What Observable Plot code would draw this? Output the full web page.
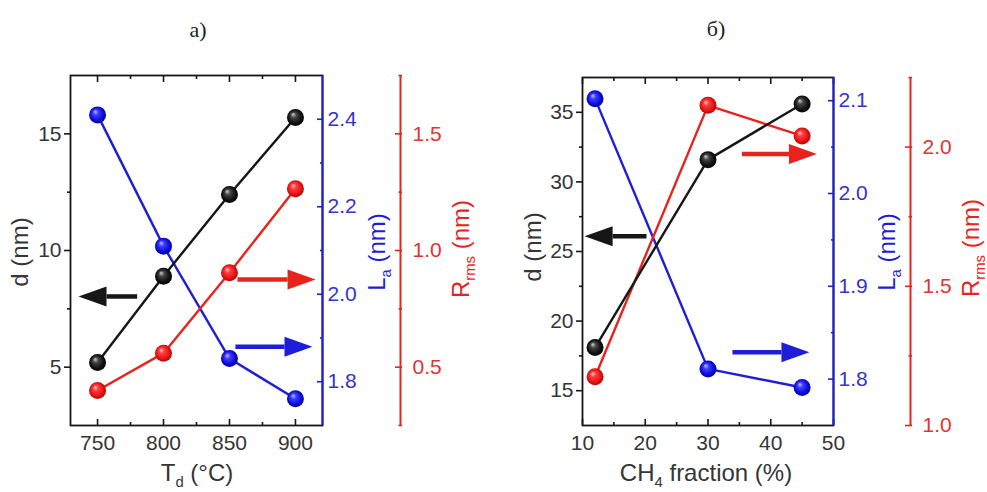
<!DOCTYPE html>
<html><head><meta charset="utf-8">
<script src="https://cdn.jsdelivr.net/npm/d3@7"></script>
<script src="https://cdn.jsdelivr.net/npm/@observablehq/plot@0.6"></script>
<style>
body{margin:0;background:#fff;}
#root{position:relative;width:987px;height:492px;overflow:hidden;font-family:"Liberation Sans",Arial,sans-serif;background:#fff;}
#root svg.plotsvg{position:absolute;left:0;top:0;}
.lab{position:absolute;white-space:nowrap;line-height:1;}
.rot{transform:translate(-50%,-50%) rotate(-90deg);}
.hor{transform:translate(-50%,-50%);}
.s{font-size:0.62em;position:relative;top:0.38em;}
.ttl{position:absolute;font-family:"Liberation Serif","Times New Roman",serif;font-size:22px;color:#222;transform:translate(-50%,-50%);}
</style></head>
<body>
<svg width="0" height="0" style="position:absolute">
 <defs>
  <radialGradient id="gBlack" cx="0.5" cy="0.5" r="0.55" fx="0.35" fy="0.3">
   <stop offset="0" stop-color="#d0d0d0"/><stop offset="0.3" stop-color="#444"/><stop offset="0.7" stop-color="#111"/><stop offset="1" stop-color="#000"/>
  </radialGradient>
  <radialGradient id="gBlue" cx="0.5" cy="0.5" r="0.55" fx="0.35" fy="0.3">
   <stop offset="0" stop-color="#c0c0ff"/><stop offset="0.3" stop-color="#3c3cff"/><stop offset="0.7" stop-color="#0c0cd8"/><stop offset="1" stop-color="#00009a"/>
  </radialGradient>
  <radialGradient id="gRed" cx="0.5" cy="0.5" r="0.55" fx="0.35" fy="0.3">
   <stop offset="0" stop-color="#ffc8c8"/><stop offset="0.3" stop-color="#ff3c3c"/><stop offset="0.7" stop-color="#e41414"/><stop offset="1" stop-color="#a80000"/>
  </radialGradient>
 </defs>
</svg>
<div id="root"></div>
<script>
// ---------- DATA ----------
// Panel a) : deposition temperature
const tempA = [750, 800, 850, 900];
const dA    = [5.2, 8.9, 12.4, 15.7];
const laA   = [2.41, 2.11, 1.853, 1.761];
const rmsA  = [0.40, 0.56, 0.905, 1.265];

// Panel б) : CH4 fraction
const ch4B = [12, 30, 45];
const dB   = [18.1, 31.6, 35.6];
const laB  = [2.102, 1.811, 1.791];
const rmsB = [1.175, 2.15, 2.04];

// Axis domains and ticks
const xDomainA = [729.5, 920.5], xTicksA = [750, 800, 850, 900], xMinorA = [775, 825, 875];
const dDomainA = [2.5, 17.5], dTicksA = [5, 10, 15], dMinorA = [7.5, 12.5];
const laDomainA = [1.7, 2.5], laTicksA = [1.8, 2.0, 2.2, 2.4], laMinorA = [1.9, 2.1, 2.3];
const rmsDomainA = [0.25, 1.75], rmsTicksA = [0.5, 1.0, 1.5], rmsMinorA = [0.25, 0.75, 1.25, 1.75];

const xDomainB = [10, 50], xTicksB = [10, 20, 30, 40, 50], xMinorB = [15, 25, 35, 45];
const dDomainB = [12.5, 37.5], dTicksB = [15, 20, 25, 30, 35], dMinorB = [17.5, 22.5, 27.5, 32.5];
const laDomainB = [1.75, 2.125], laTicksB = [1.8, 1.9, 2.0, 2.1], laMinorB = [1.85, 1.95, 2.05];
const rmsDomainB = [1.0, 2.25], rmsTicksB = [1.0, 1.5, 2.0], rmsMinorB = [1.25, 1.75, 2.25];

// Annotation arrows (data coordinates: shaft start, head base, level)
const arrowDA   = {from: 780, to: 756.8, at: 8.03};
const arrowLaA  = {from: 854.5, to: 891.7, at: 1.88};
const arrowRmsA = {from: 856, to: 894, at: 0.876};
const arrowDB   = {from: 20.2, to: 14.8, at: 26.1};
const arrowLaB  = {from: 33.9, to: 41.7, at: 1.829};
const arrowRmsB = {from: 35.4, to: 42.9, at: 1.975};

// ---------- STYLE / LAYOUT ----------
const W = 987, H = 492;
const BLACK = "#161616", BLUE = "#1e1ed8", RED = "#e8231e";
const TXT = "#353535", BLUETXT = "#3434cc", REDTXT = "#e03434";
const FONT = '"Liberation Sans", Arial, sans-serif';
const GA = {L: 70, R: 322, T: 75, B: 425, red: 400};
const GB = {L: 582, R: 833, T: 77, B: 425, red: 910};
const root = document.getElementById("root");

const headRight = {draw(c) { c.moveTo(28, 0); c.lineTo(0, -10); c.lineTo(0, 10); c.closePath(); }};
const headLeft  = {draw(c) { c.moveTo(-28, 0); c.lineTo(0, -10); c.lineTo(0, 10); c.closePath(); }};

function mount(svg) { svg.classList.add("plotsvg"); root.appendChild(svg); }

function mk(g, L, R, xDomain, yDomain, marks, xAxis = false, yAxis = false) {
  mount(Plot.plot({
    width: W, height: H,
    marginLeft: L, marginRight: W - R, marginTop: g.T, marginBottom: H - g.B,
    x: xDomain ? {domain: xDomain, ...(xAxis ? {} : {axis: null})} : {axis: null},
    y: {domain: yDomain, ...(yAxis ? {} : {axis: null})},
    style: {background: "transparent", fontFamily: FONT, overflow: "visible"},
    marks
  }));
}

function series(rows, key, color, grad) {
  return [
    Plot.line(rows, {x: "x", y: key, stroke: color, strokeWidth: 2.4}),
    Plot.dot(rows, {x: "x", y: key, r: 8.5, fill: `url(#${grad})`, stroke: "none"})
  ];
}
function arrow(a, color) {
  return [
    Plot.link([a], {x1: "from", x2: "to", y1: "at", y2: "at", stroke: color, strokeWidth: 4.5}),
    Plot.dot([a], {x: "to", y: "at", r: 8, symbol: a.to > a.from ? headRight : headLeft, fill: color, stroke: "none"})
  ];
}
const f1 = d3.format(".1f");
const blank = () => "";

function yAxes(anchor, ticks, minor, fmt, stroke, fill, size, pad) {
  return [
    Plot.axisY({anchor, ticks, tickSize: size, tickPadding: pad, tickFormat: fmt, label: null, fontSize: 21, stroke, fill, strokeWidth: 1.6}),
    Plot.axisY({anchor, ticks: minor, tickSize: size / 2, tickFormat: blank, label: null, stroke, fill: "none", strokeWidth: 1.6})
  ];
}
function xAxes(ticks, minor) {
  return [
    Plot.axisX({anchor: "bottom", ticks, tickSize: -6, tickPadding: 16, label: null, fontSize: 21, stroke: BLACK, fill: TXT, strokeWidth: 1.6}),
    Plot.axisX({anchor: "bottom", ticks: minor, tickSize: -3, tickFormat: blank, label: null, stroke: BLACK, fill: "none", strokeWidth: 1.6}),
    Plot.axisX({anchor: "top", ticks, tickSize: -6, tickFormat: blank, label: null, stroke: BLACK, fill: "none", strokeWidth: 1.6}),
    Plot.axisX({anchor: "top", ticks: minor, tickSize: -3, tickFormat: blank, label: null, stroke: BLACK, fill: "none", strokeWidth: 1.6})
  ];
}

function buildPanel(g, xs, d, la, rms, dom, arr) {
  const rows = xs.map((x, i) => ({x, d: d[i], la: la[i], rms: rms[i]}));
  // main: frame, x axes, d axis
  mk(g, g.L, g.R, dom.x, dom.d, [
    Plot.frame({stroke: BLACK, strokeWidth: 1.8}),
    ...xAxes(dom.xt, dom.xm),
    ...yAxes("left", dom.dt, dom.dm, undefined, BLACK, TXT, 6, 3),
  ], true, true);
  // blue La
  mk(g, g.L, g.R, dom.x, dom.la, [
    Plot.ruleX([dom.x[1]], {stroke: BLUE, strokeWidth: 2}),
    ...yAxes("right", dom.lat, dom.lam, f1, BLUE, BLUETXT, -6, 11),
    ...series(rows, "la", BLUE, "gBlue"),
    ...arrow(arr.la, BLUE)
  ], false, true);
  // red Rms data
  mk(g, g.L, g.R, dom.x, dom.rms, [
    ...series(rows, "rms", RED, "gRed"),
    ...arrow(arr.rms, RED)
  ]);
  // black d data on top
  mk(g, g.L, g.R, dom.x, dom.d, [
    ...series(rows, "d", BLACK, "gBlack"),
    ...arrow(arr.d, BLACK)
  ]);
  // free-standing red axis
  mk(g, g.red - 1, g.red + 1, null, dom.rms, [
    Plot.frame({fill: RED, stroke: "none"}),
    ...yAxes("right", dom.rmst, dom.rmsm, f1, RED, REDTXT, -7, 18)
  ], false, true);
}

buildPanel(GA, tempA, dA, laA, rmsA,
  {x: xDomainA, xt: xTicksA, xm: xMinorA, d: dDomainA, dt: dTicksA, dm: dMinorA,
   la: laDomainA, lat: laTicksA, lam: laMinorA, rms: rmsDomainA, rmst: rmsTicksA, rmsm: rmsMinorA},
  {d: arrowDA, la: arrowLaA, rms: arrowRmsA});
buildPanel(GB, ch4B, dB, laB, rmsB,
  {x: xDomainB, xt: xTicksB, xm: xMinorB, d: dDomainB, dt: dTicksB, dm: dMinorB,
   la: laDomainB, lat: laTicksB, lam: laMinorB, rms: rmsDomainB, rmst: rmsTicksB, rmsm: rmsMinorB},
  {d: arrowDB, la: arrowLaB, rms: arrowRmsB});

// ---------- TEXT LABELS ----------
function label(html, x, y, cls, color, size) {
  const el = document.createElement("div");
  el.className = "lab " + cls;
  el.style.left = x + "px"; el.style.top = y + "px";
  el.style.color = color; el.style.fontSize = size + "px";
  el.innerHTML = html;
  root.appendChild(el);
}
function title(t, x, y) {
  const el = document.createElement("div");
  el.className = "ttl"; el.style.left = x + "px"; el.style.top = y + "px";
  el.textContent = t; root.appendChild(el);
}
title("a)", 198, 30);
title("б)", 716, 29);

label("d (nm)", 20, 252, "rot", TXT, 24);
label('L<span class="s">a</span> (nm)', 377, 252, "rot", BLUE, 24);
label('R<span class="s">rms</span> (nm)', 461, 249, "rot", RED, 24);
label('T<span class="s">d</span> (°C)', 197, 473, "hor", TXT, 24);

label("d (nm)", 533, 247, "rot", TXT, 24);
label('L<span class="s">a</span> (nm)', 887, 252, "rot", BLUE, 24);
label('R<span class="s">rms</span> (nm)', 971, 248, "rot", RED, 24);
label('CH<span class="s">4</span> fraction (%)', 706, 473, "hor", TXT, 24);
</script>
</body></html>
